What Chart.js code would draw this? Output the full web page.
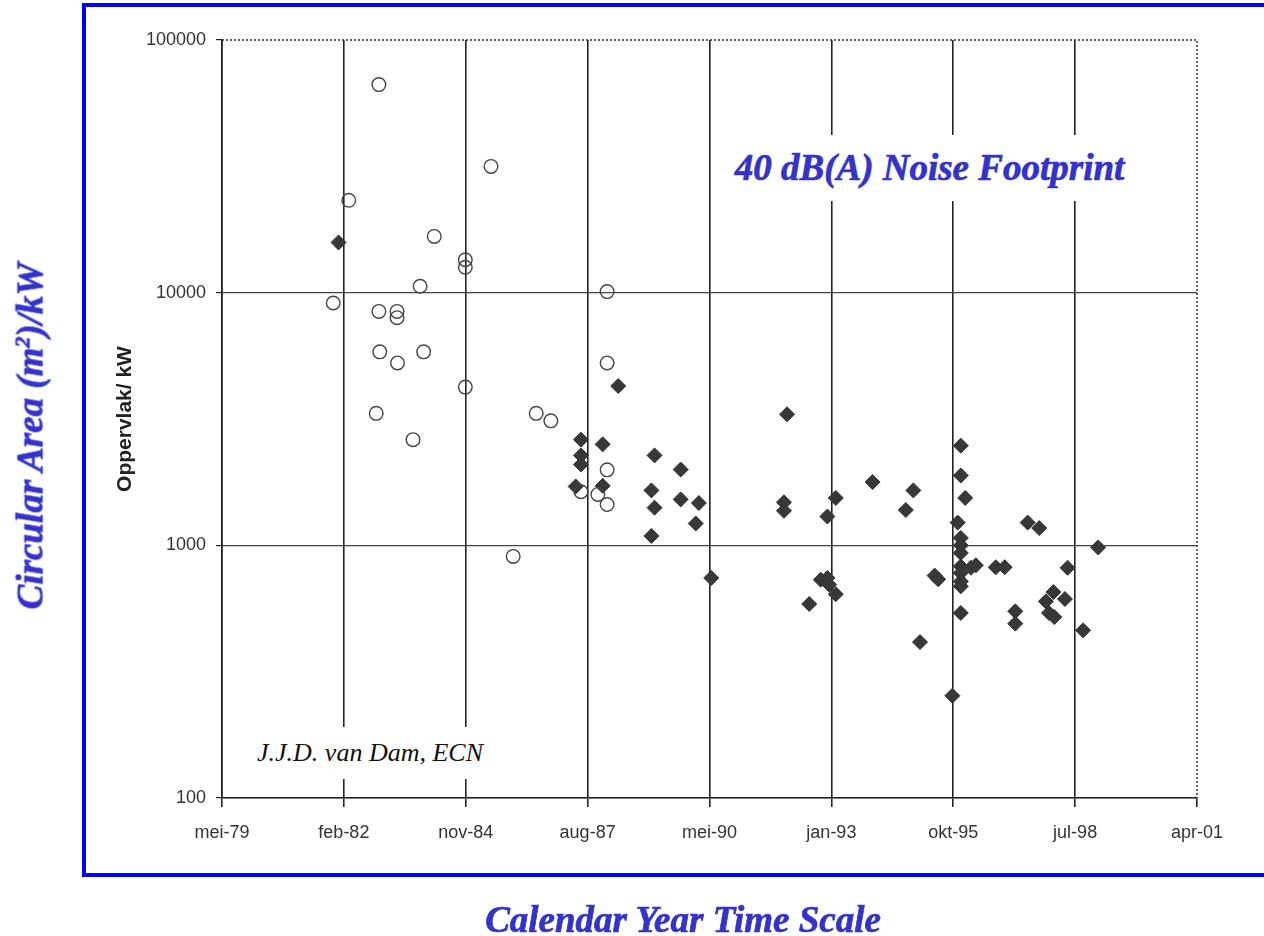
<!DOCTYPE html>
<html>
<head>
<meta charset="utf-8">
<script src="https://cdn.jsdelivr.net/npm/chart.js@4"></script>
<style>
  body { margin: 0; background: #fff; }
  #wrap { position: relative; width: 1264px; height: 936px; overflow: hidden; }
  #frame { position: absolute; left: 82px; top: 3px; width: 1200px; height: 866px; border: 4px solid #0000ff; }
  canvas { position: absolute; left: 0; top: 0; }
  .blue { position: absolute; color: #3333cc; font-family: "Liberation Serif", "Times New Roman", serif; font-weight: bold; font-style: italic; white-space: nowrap;
          -webkit-text-stroke: 0.7px #3333cc; }
  #ytitle { left: 30px; top: 436px; font-size: 37px; transform: translate(-50%, -50%) rotate(-90deg); }
  #xtitle { left: 683px; top: 919px; font-size: 37px; transform: translate(-50%, -50%); }
  #note { left: 712px; top: 135px; width: 435px; height: 66px; background: #fff; text-align: center; line-height: 66px; font-size: 37px; }
  #credit { position: absolute; left: 235px; top: 727px; width: 270px; height: 52px; background: #fff; line-height: 52px; text-align: center;
            font-family: "Liberation Serif", "Times New Roman", serif; font-style: italic; font-size: 26px; color: #111; }
</style>
</head>
<body>
<div id="wrap">
  <canvas id="chart" width="1264" height="936"></canvas>
  <div id="frame"></div>
  <div id="note" class="blue">40 dB(A) Noise Footprint</div>
  <div id="credit">J.J.D. van Dam, ECN</div>
  <div id="ytitle" class="blue">Circular Area (m<sup style="font-size:22px">2</sup>)/kW</div>
  <div id="xtitle" class="blue">Calendar Year Time Scale</div>
</div>
<script>
// x axis ticks (decimal year) and their labels
var tickYears = [1979.37, 1982.12, 1984.87, 1987.62, 1990.37, 1993.12, 1995.87, 1998.62, 2001.37];
var tickLabels = ['mei-79', 'feb-82', 'nov-84', 'aug-87', 'mei-90', 'jan-93', 'okt-95', 'jul-98', 'apr-01'];
var yTicks = [100, 1000, 10000, 100000];

// open circles (older turbines)
var openYears = [1981.88, 1982.91, 1982.91, 1982.93, 1982.85, 1982.23, 1983.32, 1983.32, 1983.33, 1983.84,
                 1983.68, 1983.92, 1984.16, 1984.86, 1984.86, 1984.86, 1985.44, 1985.94, 1986.46, 1986.79,
                 1987.47, 1987.85, 1988.06, 1988.06, 1988.06, 1988.06];
var openArea = [9100, 66600, 8430, 5830, 3330, 23200, 8430, 7960, 5270, 10600,
                2620, 5830, 16700, 13500, 12600, 4230, 31600, 904, 3330, 3110,
                1630, 1590, 10100, 5270, 1990, 1450];

// filled diamonds (newer turbines)
var fillYears = [1982.00, 1987.35, 1987.47, 1987.47, 1987.47, 1987.96, 1987.96, 1988.31, 1989.06, 1989.06,
                 1989.13, 1989.13, 1989.72, 1989.72, 1990.06, 1990.13, 1990.41, 1992.05, 1992.05, 1992.12,
                 1992.62, 1992.88, 1993.03, 1993.03, 1993.07, 1993.22, 1993.22, 1994.05, 1994.80, 1994.97,
                 1995.12, 1995.45, 1995.53, 1995.85, 1995.97, 1996.04, 1996.04, 1996.04, 1996.04, 1996.04,
                 1996.04, 1996.04, 1996.04, 1996.04, 1996.04, 1996.14, 1996.27, 1996.38, 1996.83, 1997.03,
                 1997.27, 1997.27, 1997.55, 1997.81, 1997.96, 1998.03, 1998.13, 1998.15, 1998.39, 1998.45,
                 1998.80, 1999.14];
var fillArea = [15800, 1710, 2620, 2270, 2090, 2510, 1720, 4270, 1650, 1090,
                2270, 1410, 1995, 1520, 1220, 1470, 743, 1480, 1370, 3300,
                586, 731, 743, 1300, 699, 1540, 641, 1780, 1380, 1650,
                414, 759, 734, 254, 1230, 2480, 1890, 1070, 1000, 933,
                826, 778, 720, 688, 540, 1540, 815, 834, 819, 819,
                548, 490, 1230, 1170, 600, 540, 653, 520, 613, 815,
                461, 981];

function toPoints(xs, ys) {
	var pts = [];
	for (var i in xs) {
		pts.push({x: xs[i], y: ys[i]});
	}
	return pts;
}

// dotted top and right edge of the plot
var dottedFrame = {
	id: 'dottedFrame',
	beforeDatasetsDraw: function(chart) {
		var a = chart.chartArea, c = chart.ctx;
		c.save();
		c.strokeStyle = '#333';
		c.lineWidth = 1.5;
		c.setLineDash([2, 2]);
		c.beginPath();
		c.moveTo(a.left, a.top);
		c.lineTo(a.right, a.top);
		c.lineTo(a.right, a.bottom);
		c.stroke();
		c.restore();
	}
};

var tickFont = {family: '"Liberation Sans", Arial, sans-serif', size: 18};

var ctx = document.getElementById('chart');
var chart = new Chart(ctx, {
	type: 'scatter',
	data: {
		datasets: [
			{
				label: 'open',
				data: toPoints(openYears, openArea),
				pointStyle: 'circle',
				pointRadius: 6.8,
				borderColor: '#444',
				borderWidth: 1.4,
				backgroundColor: 'rgba(255,255,255,0)'
			},
			{
				label: 'filled',
				data: toPoints(fillYears, fillArea),
				pointStyle: 'rectRot',
				pointRadius: 7.5,
				borderColor: '#333',
				borderWidth: 1,
				backgroundColor: '#383838'
			}
		]
	},
	options: {
		responsive: false,
		animation: false,
		layout: {padding: {left: 86, top: 40, right: 67, bottom: 60}},
		plugins: {legend: {display: false}, tooltip: {enabled: false}},
		scales: {
			x: {
				type: 'linear',
				min: tickYears[0],
				max: tickYears[tickYears.length - 1],
				afterBuildTicks: function(scale) {
					scale.ticks = tickYears.map(function(v) { return {value: v}; });
				},
				afterFit: function(scale) { scale.height = 78; },
				ticks: {
					color: '#333',
					font: tickFont,
					padding: 15,
					maxRotation: 0,
					autoSkip: false,
					callback: function(v, i) { return tickLabels[i]; }
				},
				grid: {
					color: function(c) { return c.index === tickYears.length - 1 ? 'rgba(0,0,0,0)' : '#222'; },
					lineWidth: 1.6,
					tickLength: 9,
					tickColor: '#222'
				},
				border: {color: '#222', width: 1.6}
			},
			y: {
				type: 'logarithmic',
				min: 100,
				max: 100000,
				afterBuildTicks: function(scale) {
					scale.ticks = yTicks.map(function(v) { return {value: v}; });
				},
				afterFit: function(scale) { scale.width = 136; },
				ticks: {
					color: '#333',
					font: tickFont,
					padding: 10,
					callback: function(v) { return String(v); }
				},
				grid: {
					color: function(c) { return c.tick && c.tick.value === 100000 ? 'rgba(0,0,0,0)' : '#444'; },
					lineWidth: 1.2,
					tickLength: 6,
					tickColor: '#222'
				},
				border: {color: '#222', width: 1.6},
				title: {
					display: true,
					text: 'Oppervlak/ kW',
					color: '#222',
					font: {family: '"Liberation Sans", Arial, sans-serif', size: 21, weight: 'bold'},
					padding: {top: 27, bottom: 0}
				}
			}
		}
	},
	plugins: [dottedFrame]
});
</script>
</body>
</html>
